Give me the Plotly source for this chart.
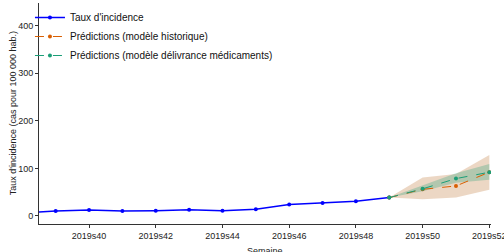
import plotly.graph_objects as go

weeks_obs = [38, 39, 40, 41, 42, 43, 44, 45, 46, 47, 48, 49]
taux = [6, 10.5, 12.5, 10.5, 11, 13, 11, 14, 24, 27, 31, 38.5]

weeks_pred = [49, 50, 51, 52]
pred_hist = [38.5, 56, 63, 92]
hist_low = [38.5, 35, 39, 55]
hist_high = [38.5, 81, 88, 128]

pred_med = [38.5, 57, 78.5, 92]
med_low = [38.5, 52, 70, 76]
med_high = [38.5, 64, 90, 109]

tick_weeks = [40, 42, 44, 46, 48, 50, 52]
tick_labels = ["2019s40", "2019s42", "2019s44", "2019s46", "2019s48", "2019s50", "2019s52"]

ORANGE = "#D95F02"
GREEN = "#1B9E77"
BLUE = "#0000FF"

fig = go.Figure()

fig.add_trace(go.Scatter(
    x=weeks_pred + weeks_pred[::-1], y=hist_high + hist_low[::-1],
    fill="toself", fillcolor="rgba(205,150,100,0.38)", line=dict(width=0),
    mode="lines", showlegend=False, hoverinfo="skip"))
fig.add_trace(go.Scatter(
    x=weeks_pred + weeks_pred[::-1], y=med_high + med_low[::-1],
    fill="toself", fillcolor="rgba(27,158,119,0.28)", line=dict(width=0),
    mode="lines", showlegend=False, hoverinfo="skip"))

fig.add_trace(go.Scatter(
    x=weeks_obs, y=taux, mode="lines+markers", name="Taux d'incidence",
    line=dict(color=BLUE, width=1.5), marker=dict(color=BLUE, size=4)))
fig.add_trace(go.Scatter(
    x=weeks_pred, y=pred_hist, mode="lines+markers", name="Prédictions (modèle historique)",
    line=dict(color=ORANGE, width=1, dash="dash"), marker=dict(color=ORANGE, size=4)))
fig.add_trace(go.Scatter(
    x=weeks_pred, y=pred_med, mode="lines+markers", name="Prédictions (modèle délivrance médicaments)",
    line=dict(color=GREEN, width=1, dash="dash"), marker=dict(color=GREEN, size=4)))

fig.update_layout(
    width=504, height=252,
    margin=dict(l=39, r=13, t=3, b=28),
    paper_bgcolor="white", plot_bgcolor="white",
    font=dict(family="Liberation Sans, Arial, sans-serif", size=9, color="#222222"),
    legend=dict(x=-0.02, y=1.0, xanchor="left", yanchor="top", bgcolor="rgba(0,0,0,0)",
                font=dict(size=10, color="#111111"), tracegroupgap=0, itemwidth=30),
    showlegend=True,
    annotations=[
        dict(text="Taux d'incidence (cas pour 100 000 hab.)", textangle=-90,
             xref="paper", yref="paper", x=-0.058, y=0.5, xanchor="center", yanchor="middle",
             showarrow=False, font=dict(size=9, color="#222222")),
        dict(text="Semaine", xref="paper", yref="paper", x=0.5, y=-0.12,
             xanchor="center", yanchor="middle", showarrow=False,
             font=dict(size=9, color="#222222")),
    ],
)
fig.update_xaxes(
    range=[38.5, 52.05], tickmode="array", tickvals=tick_weeks, ticktext=tick_labels,
    showgrid=False, zeroline=False, showline=True, linecolor="#333333", linewidth=1,
    ticks="outside", ticklen=3, tickcolor="#333333", automargin=False,
    ticklabeloverflow="allow",
)
fig.update_yaxes(
    range=[-17, 448], tickvals=[0, 100, 200, 300, 400],
    showgrid=False, zeroline=False, showline=True, linecolor="#333333", linewidth=1,
    ticks="outside", ticklen=3, tickcolor="#333333", automargin=False,
)

fig.write_html("out.html", config={"displayModeBar": False},
               post_script="document.body.style.margin='0';document.body.style.overflow='hidden';")
